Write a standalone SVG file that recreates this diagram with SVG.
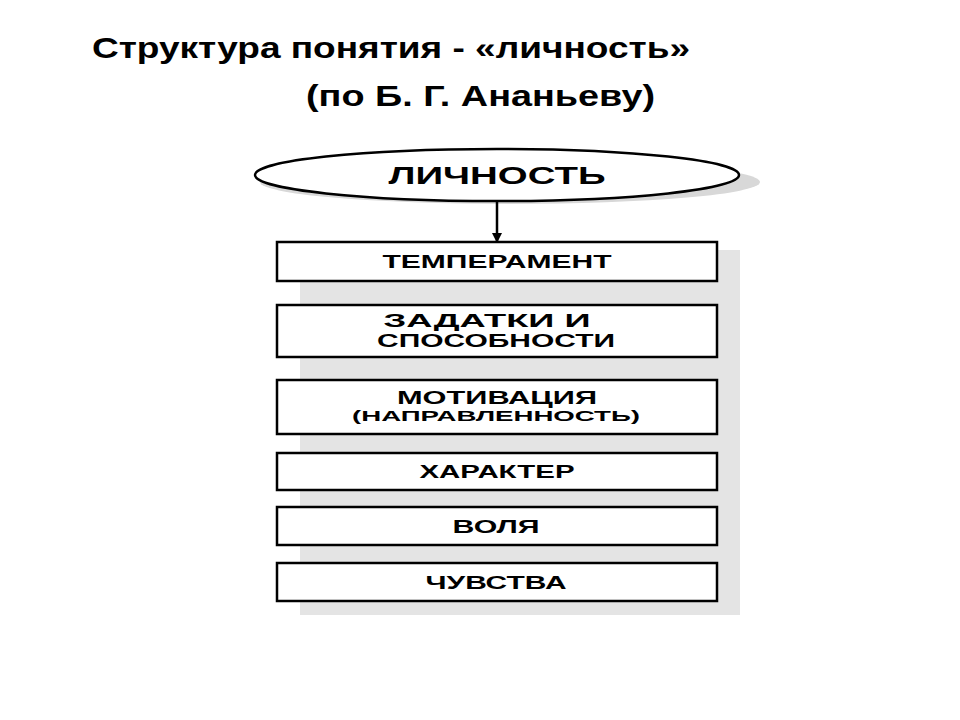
<svg xmlns="http://www.w3.org/2000/svg" width="960" height="720" viewBox="0 0 960 720">
<style>
.t{font-family:"Liberation Sans",Arial,sans-serif;font-weight:bold;fill:#000}
.h{font-size:30px}
.b{fill:#fff;stroke:#000;stroke-width:2.5}
.l{font-size:18px;text-anchor:middle}
.s{font-size:15px}
</style>
<defs><marker id="a" markerWidth="10" markerHeight="10" refX="8" refY="5" orient="auto" markerUnits="userSpaceOnUse"><path d="M0,0 L10,5 L0,10 Z" fill="#000"/></marker></defs>
<rect width="960" height="720" fill="#fff"/>
<text class="t h" x="92" y="58" textLength="598" lengthAdjust="spacingAndGlyphs">Структура понятия - «личность»</text>
<text class="t h" x="306" y="106" textLength="349" lengthAdjust="spacingAndGlyphs">(по Б. Г. Ананьеву)</text>
<rect x="300" y="250" width="440" height="365" fill="#e4e4e4"/>
<ellipse cx="510" cy="182" rx="250" ry="22" fill="#d8d8d8"/>
<g id="n0"><ellipse class="b" cx="497" cy="175" rx="242" ry="26"/><text class="t l" x="497" y="184" style="font-size:23px" textLength="217" lengthAdjust="spacingAndGlyphs">ЛИЧНОСТЬ</text></g>
<g id="connectors"><line x1="497" y1="201" x2="497" y2="241" stroke="#000" stroke-width="2.5" marker-end="url(#a)"/></g>
<g id="n1"><rect class="b" x="277" y="242" width="440" height="39"/><text class="t l" x="497" y="268" textLength="229" lengthAdjust="spacingAndGlyphs">ТЕМПЕРАМЕНТ</text></g>
<g id="n2"><rect class="b" x="277" y="305" width="440" height="52"/><text class="t l" x="487" y="327" textLength="207" lengthAdjust="spacingAndGlyphs">ЗАДАТКИ И</text><text class="t l" x="496" y="347" textLength="238" lengthAdjust="spacingAndGlyphs">СПОСОБНОСТИ</text></g>
<g id="n3"><rect class="b" x="277" y="380" width="440" height="54"/><text class="t l" x="497" y="404" textLength="200" lengthAdjust="spacingAndGlyphs">МОТИВАЦИЯ</text><text class="t l s" x="496" y="421" textLength="288" lengthAdjust="spacingAndGlyphs">(НАПРАВЛЕННОСТЬ)</text></g>
<g id="n4"><rect class="b" x="277" y="453" width="440" height="37"/><text class="t l" x="497" y="478" textLength="155" lengthAdjust="spacingAndGlyphs">ХАРАКТЕР</text></g>
<g id="n5"><rect class="b" x="277" y="507" width="440" height="38"/><text class="t l" x="496" y="533" textLength="87" lengthAdjust="spacingAndGlyphs">ВОЛЯ</text></g>
<g id="n6"><rect class="b" x="277" y="563" width="440" height="38"/><text class="t l" x="496" y="589" textLength="141" lengthAdjust="spacingAndGlyphs">ЧУВСТВА</text></g>
</svg>
